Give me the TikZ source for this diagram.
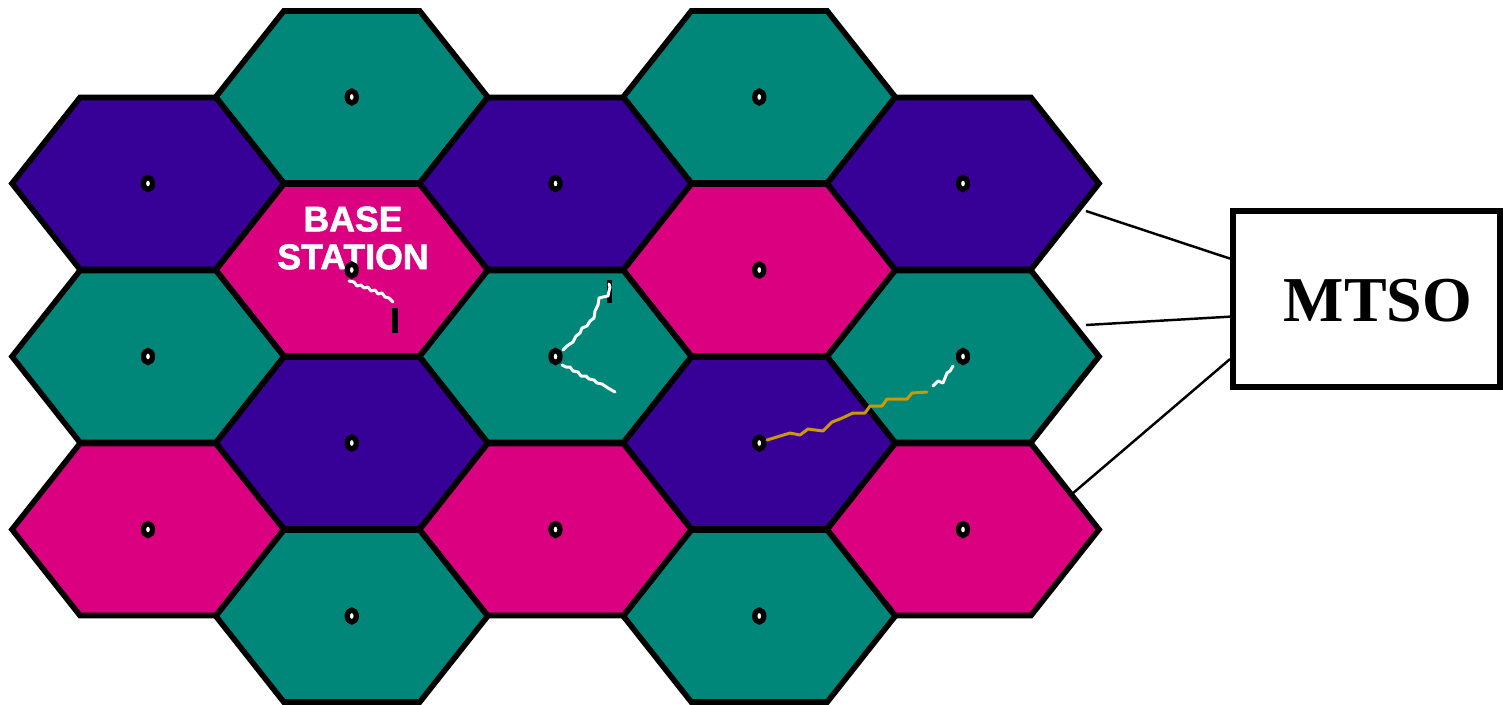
\documentclass[tikz,border=0pt]{standalone}
\usepackage{fontspec}
\usetikzlibrary{calc,shapes.geometric}
\newfontfamily\bsfont[BoldFeatures={FakeBold=1.6}]{Liberation Sans}
\newfontfamily\mtsofont{Liberation Serif}
\definecolor{hteal}{RGB}{0,135,122}
\definecolor{hpurple}{RGB}{55,0,150}
\definecolor{hmag}{RGB}{219,0,128}
\definecolor{wgold}{RGB}{204,153,0}
\begin{document}
\begin{tikzpicture}[x=0.02cm,y=-0.02cm,
  hexborder/.style={draw=black,line width=3.2pt,line join=miter},
  dotnode/.style={ellipse,draw=black,fill=white,line width=3pt,inner sep=0pt,minimum width=0.18cm,minimum height=0.24cm},
  wiggle/.style={line width=1.7pt,line join=round,line cap=round},
  link/.style={draw=black,line width=1.4pt},
  mtsobox/.style={draw=black,fill=white,line width=3.4pt,inner sep=0pt,minimum width=5.34cm,minimum height=3.52cm},
  bslabel/.style={text=white,align=center,font=\bsfont\bfseries\fontsize{20.3}{21.5}\selectfont},
  mtsolabel/.style={text=black,font=\mtsofont\bfseries\fontsize{36.4}{40}\selectfont}]
\useasboundingbox (0,0) rectangle (1503,704);
\def\cells{148/183.5/hpurple/a1, 148/356.5/hteal/a2, 148/529.5/hmag/a3,
  351.75/97/hteal/b1, 351.75/270/hmag/b2, 351.75/443/hpurple/b3, 351.75/616/hteal/b4,
  555.5/183.5/hpurple/c1, 555.5/356.5/hteal/c2, 555.5/529.5/hmag/c3,
  759.25/97/hteal/d1, 759.25/270/hmag/d2, 759.25/443/hpurple/d3, 759.25/616/hteal/d4,
  963/183.5/hpurple/e1, 963/356.5/hteal/e2, 963/529.5/hmag/e3}
% fills
\foreach \cx/\cy/\col/\nm in \cells {
  \fill[\col] (\cx-136,\cy) -- (\cx-68,\cy-86) -- (\cx+68,\cy-86) -- (\cx+136,\cy) -- (\cx+68,\cy+86) -- (\cx-68,\cy+86) -- cycle;
}
% borders
\foreach \cx/\cy/\col/\nm in \cells {
  \draw[hexborder] (\cx-136,\cy) -- (\cx-68,\cy-86) -- (\cx+68,\cy-86) -- (\cx+136,\cy) -- (\cx+68,\cy+86) -- (\cx-68,\cy+86) -- cycle;
}
% base station label
\node[bslabel] (bstext) at (353,238) {BASE\\STATION};
% dots (base stations)
\foreach \cx/\cy/\col/\nm in \cells {
  \node[dotnode] (dot\nm) at (\cx,\cy) {};
}
% signal paths
\fill[black] (392,308) rectangle (398,333);
\draw[wiggle,white] (349,281) -- (354,282) -- (357,286) -- (361,285) -- (364,288) -- (368,287) -- (371,291) -- (375,290) -- (378,294) -- (382,293) -- (385,297) -- (389,298) -- (393,302);
\fill[black] (607,280) rectangle (612,303);
\draw[wiggle,white] (563,350) -- (567,346) -- (573,342) -- (576,336) -- (580,333) -- (582,328) -- (587,326) -- (590,321) -- (594,318) -- (595,311) -- (598,305) -- (599,298) -- (603,297) -- (608,296) -- (609,291) -- (610,287) -- (609,284);
\draw[wiggle,white] (562,365) -- (566,367) -- (570,367) -- (573,371) -- (578,372) -- (581,376) -- (586,376) -- (589,379) -- (594,380) -- (597,383) -- (602,384) -- (608,388) -- (615,392);
\draw[wiggle,wgold] (767,440) -- (790,433) -- (800,435) -- (808,429) -- (823,431) -- (832,422) -- (840,419) -- (853,413) -- (865,413) -- (870,406) -- (882,406) -- (887,399) -- (907,399) -- (912,393) -- (927,392);
\draw[wiggle,white] (933,386) -- (938,381) -- (943,383) -- (947,373) -- (950,371) -- (953,366);
% MTSO
\node[mtsobox] (mtso) at (1366.5,299) {};
\node[mtsolabel] (mtsotext) at (1378,301) {MTSO};
\coordinate (l1) at (1086,211);
\coordinate (l2) at (1086,325);
\coordinate (l3) at (1072,494);
\draw[link] (l1) -- ($(mtso.north west)!0.278!(mtso.south west)$);
\draw[link] (l2) -- ($(mtso.north west)!0.597!(mtso.south west)$);
\draw[link] (l3) -- ($(mtso.north west)!0.83!(mtso.south west)$);
\end{tikzpicture}
\end{document}
